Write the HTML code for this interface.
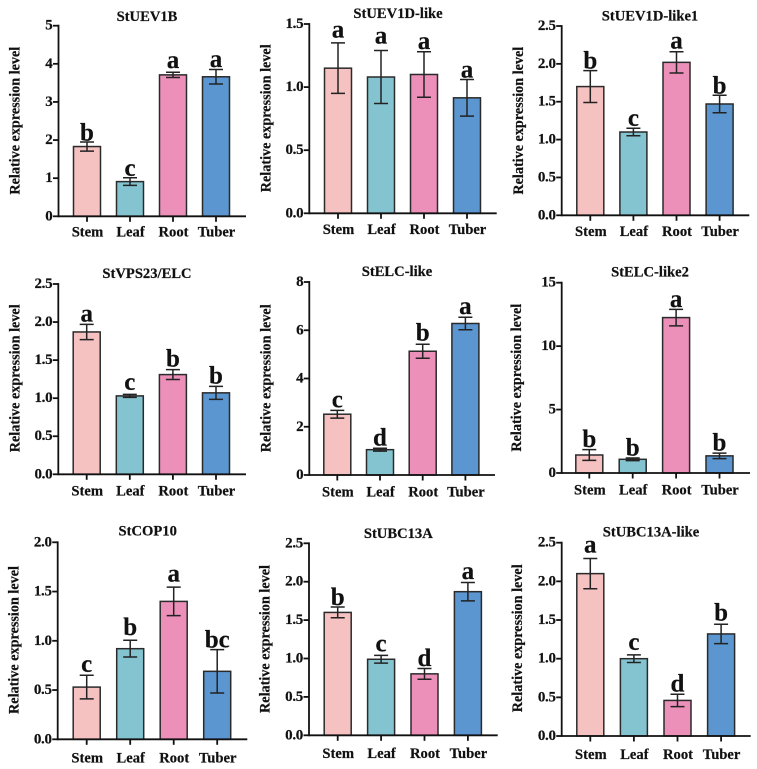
<!DOCTYPE html>
<html lang="en">
<head>
<meta charset="utf-8">
<title>Relative expression levels</title>
<style>
html,body{margin:0;padding:0;background:#fff;}
#figure{display:block;width:757px;height:769px;}
text{font-family:"Liberation Serif",serif;font-weight:bold;fill:#111;stroke:#111;stroke-width:.2;}
</style>
</head>
<body>
<svg id="figure" xmlns="http://www.w3.org/2000/svg" width="757" height="769" viewBox="0 0 757 769"></svg>
<script>
const titles = ["StUEV1B","StUEV1D-like","StUEV1D-like1","StVPS23/ELC","StELC-like","StELC-like2","StCOP10","StUBC13A","StUBC13A-like"];
const categories = ["Stem","Leaf","Root","Tuber"];
const yAxisTitle = "Relative expression level";
const yMaxes = [5,1.5,2.5,2.5,8,15,2,2.5,2.5];
const yTickLabels = [
  ["0","1","2","3","4","5"],
  ["0.0","0.5","1.0","1.5"],
  ["0.0","0.5","1.0","1.5","2.0","2.5"],
  ["0.0","0.5","1.0","1.5","2.0","2.5"],
  ["0","2","4","6","8"],
  ["0","5","10","15"],
  ["0.0","0.5","1.0","1.5","2.0"],
  ["0.0","0.5","1.0","1.5","2.0","2.5"],
  ["0.0","0.5","1.0","1.5","2.0","2.5"]
];
const means = [
  [1.83,0.91,3.71,3.66],
  [1.15,1.08,1.10,0.915],
  [1.70,1.10,2.02,1.47],
  [1.87,1.03,1.31,1.07],
  [2.52,1.05,5.13,6.28],
  [1.42,1.08,12.25,1.35],
  [0.53,0.92,1.40,0.69],
  [1.60,0.99,0.80,1.87],
  [2.10,1.00,0.46,1.32]
];
const errors = [
  [0.12,0.10,0.07,0.19],
  [0.20,0.21,0.18,0.145],
  [0.21,0.05,0.14,0.115],
  [0.10,0.02,0.065,0.085],
  [0.16,0.06,0.29,0.26],
  [0.42,0.10,0.65,0.22],
  [0.12,0.085,0.145,0.22],
  [0.07,0.05,0.07,0.12],
  [0.195,0.05,0.08,0.125]
];
const letters = [
  ["b","c","a","a"],
  ["a","a","a","a"],
  ["b","c","a","b"],
  ["a","c","b","b"],
  ["c","d","b","a"],
  ["b","b","a","b"],
  ["c","b","a","bc"],
  ["b","c","d","a"],
  ["a","c","d","b"]
];

/* Layout of each panel on the page (separate from the data above). */
const layout = [
  {ax:58.5, y0:216.3,top:25.7, end:246,  first:87,    step:43,   tx:147,  ty:17,   ly:232.7,yx:15.7, yy:120.7},
  {ax:309.3,y0:213.3,top:24,   end:496.7,first:338,   step:43,   tx:398,  ty:14,   ly:230,  yx:266.7,yy:118.3},
  {ax:561.7,y0:215.3,top:26,   end:749.3,first:590.3, step:43.1, tx:650,  ty:16.7, ly:232,  yx:519,  yy:120.7},
  {ax:58.3, y0:474.3,top:284,  end:246,  first:86.7,  step:43.1, tx:147,  ty:274,  ly:491.3,yx:15.7, yy:378.3},
  {ax:309.3,y0:475,  top:282,  end:495,  first:337.3, step:42.7, tx:397,  ty:272,  ly:492.3,yx:266.7,yy:378.3},
  {ax:561.7,y0:473,  top:282.7,end:750,  first:589.3, step:43.4, tx:650,  ty:272.7,ly:490.3,yx:517,  yy:377.7},
  {ax:57.7, y0:739.3,top:542.3,end:247.3,first:86.7,  step:43.5, tx:147.7,ty:531.7,ly:758.7,yx:14.3, yy:640},
  {ax:309,  y0:735.3,top:543.3,end:497.7,first:337.7, step:43.4, tx:398.3,ty:534,  ly:754,  yx:265.7,yy:639},
  {ax:561.7,y0:736,  top:542.7,end:750.7,first:590.3, step:43.6, tx:651,  ty:532.3,ly:755,  yx:518,  yy:638.3}
];
/* Pixel gap between each error-bar cap and the letter baseline. */
const letterGaps = [
  [1.7,2,4,2.7],
  [5.6,7,3,2],
  [2,2,3,1.6],
  [2.7,4.3,3.3,2.7],
  [2.7,2.7,3.7,3],
  [2.7,2.7,2.3,2.7],
  [3.3,5.3,5.7,2.3],
  [2,3.7,2.7,3.7],
  [6,4.7,2.7,4]
];
const barFills = ["#F6C1C1","#84C4D0","#EC90BA","#5B96D0"];
const svgNS = "http://www.w3.org/2000/svg";
const figure = document.getElementById("figure");

function make(tag, attrs, parent, content){
  const el = document.createElementNS(svgNS, tag);
  for (const k in attrs) el.setAttribute(k, attrs[k]);
  if (content !== undefined) el.textContent = content;
  parent.appendChild(el);
  return el;
}

titles.forEach(function(title, p){
  const L = layout[p];
  const yScale = function(v){ return L.y0 - (v / yMaxes[p]) * (L.y0 - L.top); };
  const xScale = function(i){ return L.first + i * L.step; };

  const g = make("g", {}, figure);
  
  

  const t = make("text", {x:L.tx, y:L.ty, "text-anchor":"middle", "dominant-baseline":"central", "font-size":14.6}, g, title);
  
  

  const yt = make("text", {x:0, y:0, "text-anchor":"middle", "dominant-baseline":"central", "font-size":14.2, transform:"translate(" + L.yx + " " + L.yy + ") rotate(-90)"}, g, yAxisTitle);
  
  

  categories.forEach(function(cat, i){
    const cx = xScale(i);
    const top = yScale(means[p][i]);
    const bar = make("rect", {x:cx - 13.5, y:top, width:27, height:L.y0 - top, fill:barFills[i], stroke:"#2a2a2a", "stroke-width":1.5}, g);
    
    

    const hi = yScale(means[p][i] + errors[p][i]);
    const lo = yScale(means[p][i] - errors[p][i]);
    const eb = make("path", {d:"M" + (cx - 7) + " " + hi + "H" + (cx + 7) + "M" + cx + " " + hi + "V" + lo + "M" + (cx - 7) + " " + lo + "H" + (cx + 7), fill:"none", stroke:"#222", "stroke-width":1.5}, g);
    
    

    const sig = make("text", {x:cx, y:hi - letterGaps[p][i], "text-anchor":"middle", "font-size":25}, g, letters[p][i]);
    
    

    const tick = make("line", {x1:cx, x2:cx, y1:L.y0, y2:L.y0 + 5.5, stroke:"#111", "stroke-width":1.8}, g);
    
    

    const lab = make("text", {x:cx + 0.5, y:L.ly, "text-anchor":"middle", "dominant-baseline":"central", "font-size":14.6}, g, cat);
    
    
  });

  yTickLabels[p].forEach(function(label){
    const y = yScale(parseFloat(label));
    const tick = make("line", {x1:L.ax - 5.5, x2:L.ax, y1:y, y2:y, stroke:"#111", "stroke-width":1.8}, g);
    
    

    const lab = make("text", {x:L.ax - 6, y:y, "text-anchor":"end", "dominant-baseline":"central", "font-size":15, "letter-spacing":-0.3}, g, label);
    
    
  });

  const yAxis = make("line", {x1:L.ax, x2:L.ax, y1:L.top - 0.9, y2:L.y0 + 0.9, stroke:"#111", "stroke-width":1.8}, g);
  
  

  const xAxis = make("line", {x1:L.ax, x2:L.end, y1:L.y0, y2:L.y0, stroke:"#111", "stroke-width":1.8}, g);
  
  
});
</script>
</body>
</html>
